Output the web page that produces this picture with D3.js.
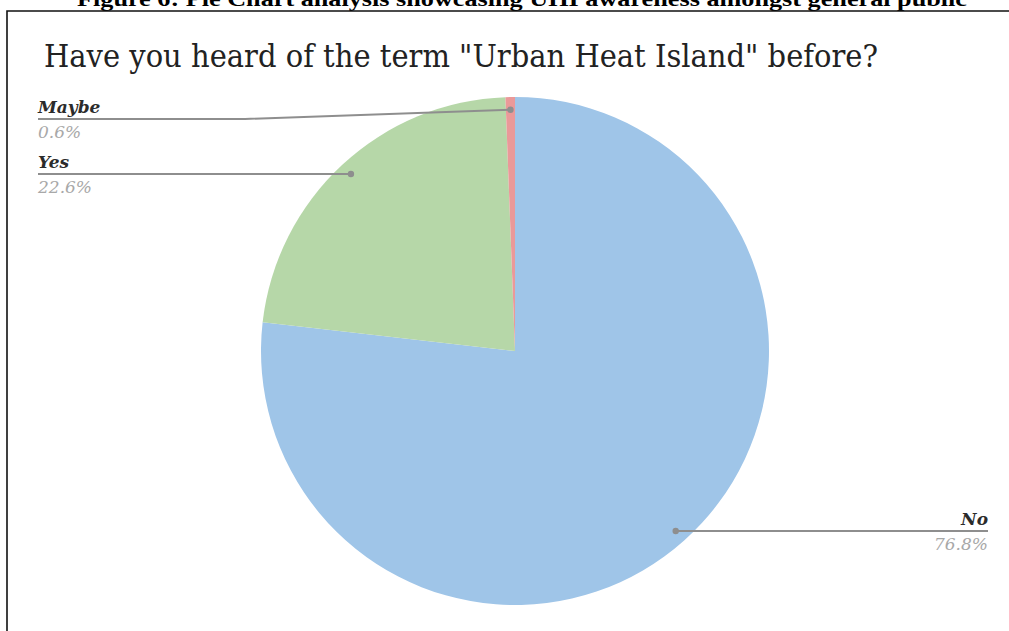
<!DOCTYPE html>
<html>
<head>
<meta charset="utf-8">
<script src="https://cdn.jsdelivr.net/npm/d3@7"></script>
<style>
  html, body { margin: 0; padding: 0; background: #fff; }
  svg { display: block; }
</style>
</head>
<body>
<svg id="chart" width="1009" height="631"></svg>
<script>
// Survey answers and their shares (percent)
const categories = ["No", "Yes", "Maybe"];
const values = [76.8, 22.6, 0.6];
const colors = ["#9fc5e8", "#b6d7a8", "#ea9999"];
const valueLabels = ["76.8%", "22.6%", "0.6%"];

const captionText = "Figure 6: Pie Chart analysis showcasing UHI awareness amongst general public";
const titleText = "Have you heard of the term \"Urban Heat Island\" before?";

const W = 1009, H = 631;
const svg = d3.select("#chart");

// Document caption (clipped at the top of the page)
svg.append("text")
  .attr("x", 77).attr("y", 6)
  .attr("textLength", 890)
  .attr("lengthAdjust", "spacingAndGlyphs")
  .style("font-family", "'Liberation Serif', serif")
  .style("font-weight", "bold")
  .style("font-size", "22px")
  .attr("fill", "#000")
  .text(captionText);

// Frame around the chart
svg.append("path")
  .attr("d", `M7,${H} L7,11 L${W},11`)
  .attr("fill", "none")
  .attr("stroke", "#111")
  .attr("stroke-width", 1.6);

// Chart title
svg.append("text")
  .attr("x", 44).attr("y", 67)
  .attr("textLength", 834)
  .attr("lengthAdjust", "spacingAndGlyphs")
  .style("font-family", "'DejaVu Serif', serif")
  .style("font-size", "32px")
  .attr("fill", "#222")
  .text(titleText);

// Pie geometry
const cx = 515, cy = 351, R = 254;
const data = categories.map((c, i) => ({ name: c, value: values[i], color: colors[i], label: valueLabels[i] }));

const pie = d3.pie().value(d => d.value).sort(null);
const arcs = pie(data);
const arc = d3.arc().innerRadius(0).outerRadius(R);

const g = svg.append("g").attr("transform", `translate(${cx},${cy})`);
g.selectAll("path.slice")
  .data(arcs)
  .join("path")
  .attr("class", "slice")
  .attr("d", arc)
  .attr("fill", d => d.data.color)
  .attr("stroke", "none");

// Leader lines and labels
const dotR = R * 0.95;
const leftX = 38, rightX = 988;
const leftBend = 245, rightBend = 785;
const minLineY = 119;

const labels = arcs.map(a => {
  const mid = (a.startAngle + a.endAngle) / 2;
  const dx = cx + Math.sin(mid) * dotR;
  const dy = cy - Math.cos(mid) * dotR;
  const side = Math.sin(mid) < 0 ? "left" : "right";
  return { a, dx, dy, side, lineY: Math.max(dy, minLineY) };
});

// keep left-side labels from overlapping
const left = labels.filter(l => l.side === "left").sort((p, q) => p.lineY - q.lineY);
for (let i = 1; i < left.length; i++) {
  if (left[i].lineY - left[i - 1].lineY < 50) left[i].lineY = left[i - 1].lineY + 50;
}

const lineColor = "#8e8e8e";
labels.forEach(l => {
  const tx = l.side === "left" ? leftX : rightX;
  const bx = l.side === "left" ? leftBend : rightBend;
  const pts = [[tx, l.lineY], [bx, l.lineY], [l.dx, l.dy]];
  svg.append("path")
    .attr("d", d3.line()(pts))
    .attr("fill", "none")
    .attr("stroke", lineColor)
    .attr("stroke-width", 2);
  svg.append("circle")
    .attr("cx", l.dx).attr("cy", l.dy).attr("r", 3.2)
    .attr("fill", lineColor);

  const anchor = l.side === "left" ? "start" : "end";
  svg.append("text")
    .attr("x", tx).attr("y", l.lineY - 6)
    .attr("text-anchor", anchor)
    .style("font-family", "'DejaVu Serif', serif")
    .style("font-style", "italic")
    .style("font-weight", "bold")
    .style("font-size", "17px")
    .attr("fill", "#2b2b2b")
    .text(l.a.data.name);
  svg.append("text")
    .attr("x", tx).attr("y", l.lineY + 19)
    .attr("text-anchor", anchor)
    .style("font-family", "'DejaVu Serif', serif")
    .style("font-style", "italic")
    .style("font-size", "17px")
    .attr("fill", "#a8a8a8")
    .text(l.a.data.label);
});
</script>
</body>
</html>
